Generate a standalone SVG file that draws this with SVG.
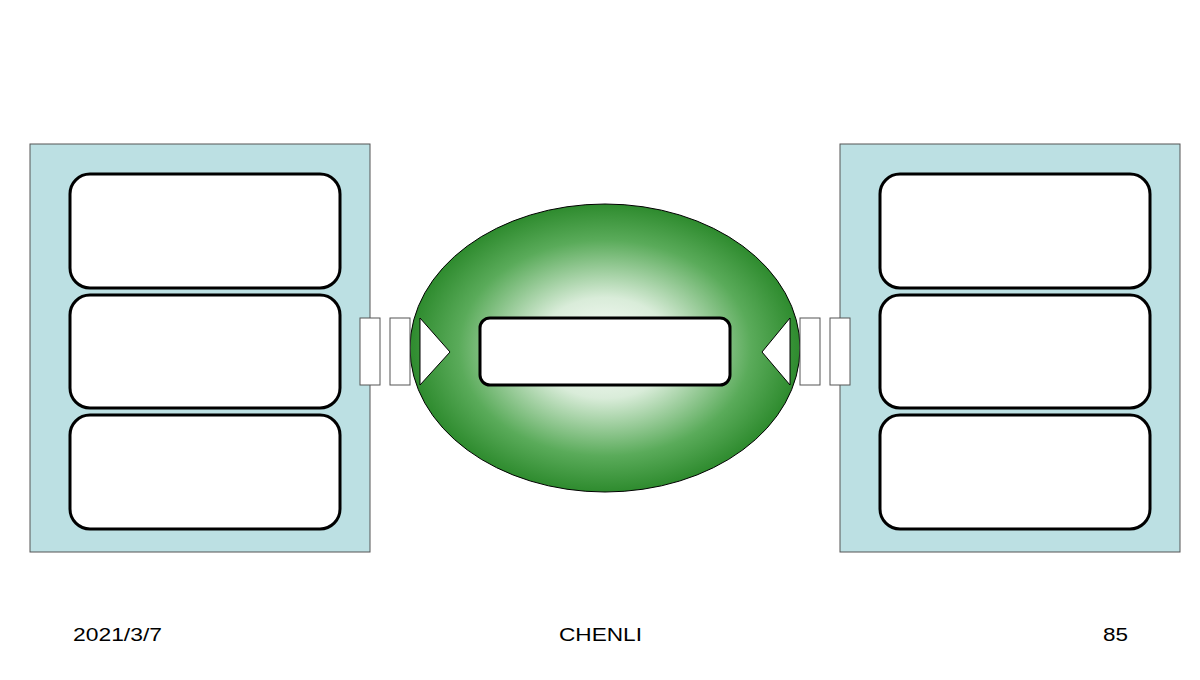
<svg xmlns="http://www.w3.org/2000/svg" width="1200" height="680" viewBox="0 0 1200 680">
<style>
.panel{fill:#bce0e3;stroke:#555;stroke-width:1}
.box{fill:#fff;stroke:#000;stroke-width:3}
.port{fill:#fff;stroke:#555;stroke-width:1}
.tri{fill:#fff;stroke:#000;stroke-width:1}
.ft{font-family:"Liberation Sans",Arial,sans-serif;font-size:18px;fill:#000}
</style>
<defs>
<radialGradient id="g" cx="0.5" cy="0.5" r="0.5">
<stop offset="0" stop-color="#ffffff"/>
<stop offset="0.35" stop-color="#d9ecd9"/>
<stop offset="0.75" stop-color="#5aab5a"/>
<stop offset="1" stop-color="#2e8b2e"/>
</radialGradient>
</defs>
<g id="left-panel">
<rect class="panel" x="30" y="144" width="340" height="408"/>
<rect class="box" x="70" y="174" width="270" height="114" rx="20"/>
<rect class="box" x="70" y="295" width="270" height="113" rx="20"/>
<rect class="box" x="70" y="415" width="270" height="114" rx="20"/>
</g>
<g id="right-panel">
<rect class="panel" x="840" y="144" width="340" height="408"/>
<rect class="box" x="880" y="174" width="270" height="114" rx="20"/>
<rect class="box" x="880" y="295" width="270" height="113" rx="20"/>
<rect class="box" x="880" y="415" width="270" height="114" rx="20"/>
</g>
<g id="center">
<ellipse cx="605" cy="348" rx="195" ry="144" fill="url(#g)" stroke="#000" stroke-width="1"/>
<rect class="box" x="480" y="318" width="250" height="67" rx="10"/>
</g>
<g id="connectors">
<rect class="port" x="360" y="318" width="20" height="67"/>
<rect class="port" x="390" y="318" width="20" height="67"/>
<polygon class="tri" points="420,318 450,352 420,385"/>
<rect class="port" x="800" y="318" width="20" height="67"/>
<rect class="port" x="830" y="318" width="20" height="67"/>
<polygon class="tri" points="790,318 762,352 790,385"/>
</g>
<g id="footer">
<text class="ft" x="73" y="641" textLength="89" lengthAdjust="spacingAndGlyphs">2021/3/7</text>
<text class="ft" x="559" y="641" textLength="83" lengthAdjust="spacingAndGlyphs">CHENLI</text>
<text class="ft" x="1103" y="641" textLength="25" lengthAdjust="spacingAndGlyphs">85</text>
</g>
</svg>
